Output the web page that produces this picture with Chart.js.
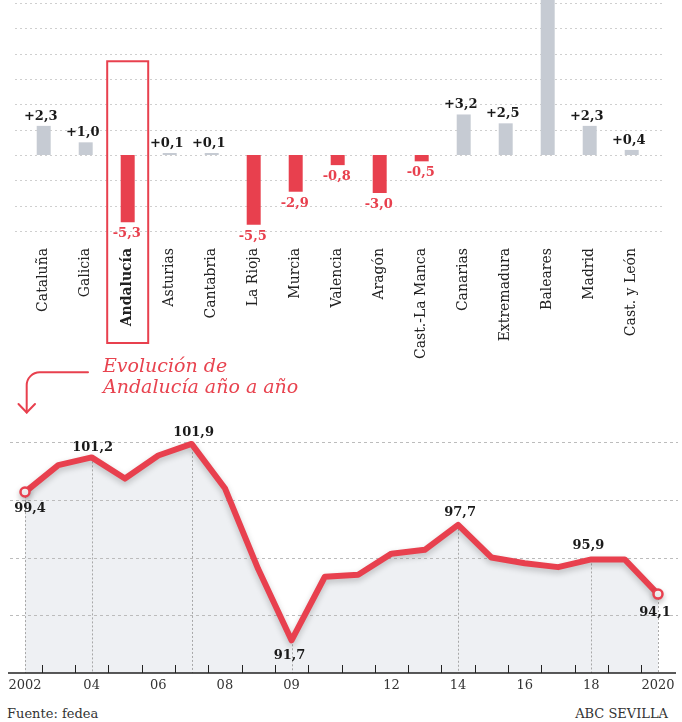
<!DOCTYPE html>
<html><head><meta charset="utf-8">
<script src="https://cdn.jsdelivr.net/npm/chart.js@4"></script>
<style>
html,body{margin:0;padding:0;background:#fff;width:682px;height:722px;overflow:hidden;position:relative;font-family:"DejaVu Serif",serif;}
#c1{position:absolute;left:0;top:0;}
#c2{position:absolute;left:0;top:350px;}
#title{position:absolute;left:103px;top:355px;color:#e8434f;font:italic 19px/21px "DejaVu Serif";white-space:nowrap;}
.foot{position:absolute;top:706px;font:13px "DejaVu Serif";color:#333;white-space:nowrap;}
</style></head><body>
<canvas id="c1" width="682" height="370"></canvas>
<canvas id="c2" width="682" height="350"></canvas>
<div id="title">Evolución de<br>Andalucía año a año</div>
<div class="foot" style="left:7px">Fuente: fedea</div>
<div class="foot" style="right:14px">ABC SEVILLA</div>
<script>
const regions = ['Cataluña','Galicia','Andalucía','Asturias','Cantabria','La Rioja','Murcia','Valencia','Aragón','Cast.-La Manca','Canarias','Extremadura','Baleares','Madrid','Cast. y León'];
const changes = [2.3, 1.0, -5.3, 0.1, 0.1, -5.5, -2.9, -0.8, -3.0, -0.5, 3.2, 2.5, 13.0, 2.3, 0.4];
const years = ['2002','','04','','06','','08','','09','','','12','','14','','16','','18','','2020'];
const andalucia = [99.4, 100.8, 101.2, 100.1, 101.3, 101.9, 99.6, 95.4, 91.7, 95.0, 95.1, 96.2, 96.4, 97.7, 96.0, 95.7, 95.5, 95.9, 95.9, 94.1];

const RED = '#e8404e';
const GRAY = '#c6cbd3';
const HIGHLIGHT = 2;

function seg(ctx, x1, y1, x2, y2){ ctx.beginPath(); ctx.moveTo(x1,y1); ctx.lineTo(x2,y2); ctx.stroke(); }
function fmt(v){ return v.toFixed(1).replace('.', ','); }

const barDeco = {
  id: 'barDeco',
  beforeDatasetsDraw(chart){
    const {ctx, scales:{y}} = chart;
    ctx.save();
    ctx.strokeStyle = '#cfcfcf'; ctx.lineWidth = 1; ctx.setLineDash([2,3]);
    y.ticks.forEach(t => { const py = Math.round(y.getPixelForValue(t.value)) + 0.5; seg(ctx, 15, py, 665, py); });
    ctx.restore();
  },
  afterDatasetsDraw(chart){
    const {ctx, scales:{x, y}, chartArea:a} = chart;
    const meta = chart.getDatasetMeta(0);
    ctx.save();
    ctx.font = 'bold 13px "DejaVu Serif"';
    ctx.textAlign = 'center';
    meta.data.forEach((bar, i) => {
      const v = changes[i];
      if (v > y.max) return;
      if (v >= 0) {
        ctx.fillStyle = '#1a1a1a'; ctx.textBaseline = 'alphabetic';
        ctx.fillText('+' + fmt(v), bar.x - 3, bar.y - 6);
      } else {
        ctx.fillStyle = RED; ctx.textBaseline = 'top';
        ctx.fillText(fmt(v), bar.x - 1, bar.y + 5);
      }
    });
    const cx = x.getPixelForValue(HIGHLIGHT);
    const top = y.getPixelForValue(7.4);
    const bottom = a.bottom + 112;
    ctx.strokeStyle = RED; ctx.lineWidth = 2;
    ctx.strokeRect(cx - 20.5, top, 41, bottom - top);
    ctx.restore();
  }
};

new Chart(document.getElementById('c1'), {
  type: 'bar',
  data: { labels: regions, datasets: [{
    data: changes,
    backgroundColor: changes.map(v => v < 0 ? RED : GRAY),
    barPercentage: 0.333, categoryPercentage: 1, minBarLength: 2, clip: false
  }]},
  options: {
    responsive: false, animation: false, devicePixelRatio: 1,
    layout: { padding: { left: 22.7, right: 29.3, top: 3, bottom: 0 } },
    plugins: { legend: { display: false }, tooltip: { enabled: false } },
    scales: {
      x: {
        grid: { display: false, drawTicks: false }, border: { display: false },
        ticks: { autoSkip: false, minRotation: 90, maxRotation: 90, padding: 17, color: '#222',
          font: c => ({ family: 'DejaVu Serif', size: 14, weight: c.index === HIGHLIGHT ? 'bold' : 'normal' }) },
        afterFit: s => { s.height = 139; }
      },
      y: {
        min: -6, max: 12,
        ticks: { stepSize: 2, display: false }, grid: { display: false }, border: { display: false },
        afterFit: s => { s.width = 0; }
      }
    }
  },
  plugins: [barDeco]
});

const LABELED = { 0: [5, 17], 2: [1, -10], 5: [2, -11], 8: [-2, 15], 13: [2, -12], 17: [-3, -14], 19: [-3, 19] };

const lineDeco = {
  id: 'lineDeco',
  beforeDatasetsDraw(chart){
    const {ctx, scales:{y}, chartArea:a} = chart;
    const meta = chart.getDatasetMeta(0);
    ctx.save();
    ctx.strokeStyle = '#bcbcbc'; ctx.lineWidth = 1; ctx.setLineDash([3,3]);
    y.ticks.forEach(t => {
      if (t.value === y.min) return;
      const py = Math.round(y.getPixelForValue(t.value)) + 0.5; seg(ctx, 10, py, 678, py);
    });
    ctx.strokeStyle = '#a8a8a8'; ctx.setLineDash([2,2]);
    Object.keys(LABELED).forEach(k => {
      const p = meta.data[+k]; const px = Math.round(p.x) + 0.5; seg(ctx, px, p.y, px, a.bottom);
    });
    ctx.setLineDash([]);
    ctx.strokeStyle = '#222'; ctx.lineWidth = 1.5;
    seg(ctx, 8, a.bottom, 676, a.bottom);
    ctx.lineWidth = 1;
    for (let i = 0; i < meta.data.length - 1; i++) {
      const mx = Math.round((meta.data[i].x + meta.data[i+1].x) / 2) + 0.5;
      seg(ctx, mx, a.bottom - 8, mx, a.bottom);
    }
    ctx.restore();
  },
  beforeDatasetDraw(chart){
    const ctx = chart.ctx;
    ctx.save();
    ctx.shadowColor = 'rgba(0,0,0,0.22)'; ctx.shadowBlur = 6; ctx.shadowOffsetY = 3;
  },
  afterDatasetDraw(chart){ chart.ctx.restore(); },
  afterDatasetsDraw(chart){
    const ctx = chart.ctx;
    const meta = chart.getDatasetMeta(0);
    ctx.save();
    ctx.font = 'bold 13px "DejaVu Serif"'; ctx.textAlign = 'center'; ctx.textBaseline = 'middle';
    ctx.fillStyle = '#1a1a1a';
    Object.keys(LABELED).forEach(k => {
      const i = +k; const p = meta.data[i]; const [dx, dy] = LABELED[k];
      ctx.fillText(fmt(andalucia[i]), p.x + dx, p.y + dy);
    });
    ctx.strokeStyle = RED; ctx.lineWidth = 2; ctx.lineCap = 'round';
    ctx.beginPath(); ctx.moveTo(88, 22.3); ctx.arcTo(26.7, 22.3, 26.7, 63, 13); ctx.lineTo(26.7, 62.5); ctx.stroke();
    ctx.beginPath(); ctx.moveTo(18.5, 54); ctx.lineTo(26.7, 62.5); ctx.lineTo(35, 54); ctx.stroke();
    ctx.restore();
  }
};

new Chart(document.getElementById('c2'), {
  type: 'line',
  data: { labels: years, datasets: [{
    data: andalucia,
    borderColor: RED, borderWidth: 6, borderJoinStyle: 'round', tension: 0,
    fill: 'start', backgroundColor: '#eef0f3',
    pointRadius: c => (c.dataIndex === 0 || c.dataIndex === andalucia.length - 1) ? 4.5 : 0,
    pointBackgroundColor: '#fff', pointBorderColor: RED, pointBorderWidth: 2.5,
    clip: false
  }]},
  options: {
    responsive: false, animation: false, devicePixelRatio: 1,
    layout: { padding: { left: 25, right: 24, top: 92, bottom: 0 } },
    plugins: { legend: { display: false }, tooltip: { enabled: false }, filler: { drawTime: 'beforeDatasetsDraw' } },
    scales: {
      x: {
        grid: { display: false, drawTicks: false }, border: { display: false },
        ticks: { autoSkip: false, maxRotation: 0, minRotation: 0, padding: 5, color: '#333',
          font: { family: 'DejaVu Serif', size: 13 } },
        afterFit: s => { s.height = 27; }
      },
      y: {
        min: 90, max: 102,
        ticks: { stepSize: 3, display: false }, grid: { display: false }, border: { display: false },
        afterFit: s => { s.width = 0; }
      }
    }
  },
  plugins: [lineDeco]
});
</script>
</body></html>
